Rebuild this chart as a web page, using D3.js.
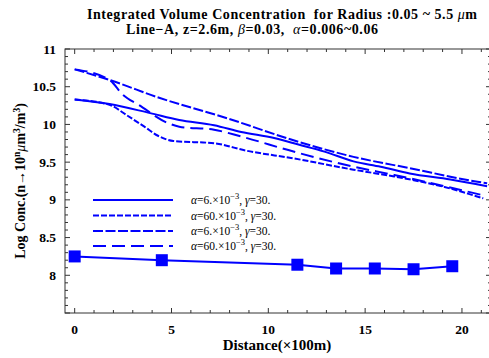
<!DOCTYPE html>
<html>
<head>
<meta charset="utf-8">
<script src="https://cdn.jsdelivr.net/npm/d3@7"></script>
<style>
  body { margin: 0; background: #fff; }
  svg { display: block; font-family: "Liberation Serif", "DejaVu Serif", serif; }
  .tick-label { font-weight: bold; font-size: 13.5px; }
</style>
</head>
<body>
<div id="chart"></div>
<script>
// Distance (x100m) and log concentration
const solidX = [0, 1.8, 3.9, 5.4, 7.2, 8.6, 10.3, 11.6, 12.9, 14.4, 15.8, 17.3, 19.4, 21.3];
const solidY = [10.33, 10.27, 10.15, 10.06, 9.99, 9.90, 9.82, 9.73, 9.64, 9.51, 9.44, 9.35, 9.27, 9.18];

const lowX = [0, 1.8, 2.7, 3.6, 4.3, 5.1, 7.2, 8.9, 11.3, 14.4, 16.5, 19.1, 21.1];
const lowY = [10.33, 10.26, 10.12, 9.97, 9.85, 9.78, 9.75, 9.65, 9.55, 9.40, 9.31, 9.17, 9.02];

const topX = [0, 1.8, 4.4, 7.9, 11.3, 14.4, 17.3, 20.8, 21.3];
const topY = [10.73, 10.59, 10.35, 10.08, 9.79, 9.57, 9.42, 9.24, 9.22];

const dropX = [0, 1.8, 2.5, 3.3, 4.8, 5.4, 7.2, 8.6, 11.3, 14.4, 16.5, 21.1];
const dropY = [10.73, 10.59, 10.39, 10.26, 10.02, 9.97, 9.93, 9.84, 9.64, 9.44, 9.33, 9.06];

// measured points (squares)
const measX = [0, 4.5, 11.5, 13.5, 15.5, 17.5, 19.5];
const measY = [8.25, 8.20, 8.14, 8.09, 8.09, 8.08, 8.12];

const xTicks = [0, 5, 10, 15, 20];
const yTicks = [8, 8.5, 9, 9.5, 10, 10.5, 11];

const legendAlpha = ["6.", "60.", "6.", "60."];
const legendDash = [null, "6,2", "10,2.5", "13,6"];

const W = 489, H = 358;
const pad = { left: 65, top: 49, right: 491, bottom: 313 };
const blue = "#0000ff";

const svg = d3.select("#chart").append("svg").attr("width", W).attr("height", H);

const x = d3.scaleLinear().domain([-0.5, 21.5]).range([pad.left, pad.right]);
const y = d3.scaleLinear().domain([7.5, 11]).range([pad.bottom, pad.top]);

// Titles
const t1 = svg.append("text").attr("x", 87).attr("y", 18.5)
  .attr("font-size", 14).attr("font-weight", "bold")
  .attr("textLength", 390).attr("lengthAdjust", "spacing");
t1.append("tspan").text("Integrated Volume Concentration\u00a0\u00a0for Radius :0.05 ~ 5.5 ");
t1.append("tspan").attr("font-style", "italic").attr("font-weight", "normal").text("\u03bc");
t1.append("tspan").text("m");

const t2 = svg.append("text").attr("x", 126).attr("y", 34)
  .attr("font-size", 14).attr("font-weight", "bold")
  .attr("textLength", 252).attr("lengthAdjust", "spacing");
t2.append("tspan").text("Line\u2212A, z=2.6m, ");
t2.append("tspan").attr("font-style", "italic").attr("font-weight", "normal").text("\u03b2");
t2.append("tspan").text("=0.03,\u00a0\u00a0");
t2.append("tspan").attr("font-style", "italic").attr("font-weight", "normal").text("\u03b1");
t2.append("tspan").text("=0.006~0.06");

// Frame
const frame = svg.append("g").attr("stroke", "#333").attr("stroke-width", 1).attr("fill", "none");
frame.append("rect")
  .attr("x", pad.left).attr("y", pad.top)
  .attr("width", pad.right - pad.left).attr("height", pad.bottom - pad.top);

// Ticks pointing inward on all sides
const xMinor = d3.range(0, 22, 1);
const yMinor = d3.range(7.5, 11.001, 0.1).map((d) => +d.toFixed(1));
xMinor.forEach((d) => {
  const len = d % 5 === 0 ? 5 : 3;
  frame.append("line").attr("x1", x(d)).attr("x2", x(d))
    .attr("y1", pad.bottom).attr("y2", pad.bottom - len);
  frame.append("line").attr("x1", x(d)).attr("x2", x(d))
    .attr("y1", pad.top).attr("y2", pad.top + len);
});
yMinor.forEach((d) => {
  const len = Math.abs(d * 2 - Math.round(d * 2)) < 1e-6 ? 5 : 3;
  frame.append("line").attr("y1", y(d)).attr("y2", y(d))
    .attr("x1", pad.left).attr("x2", pad.left + len);
  frame.append("line").attr("y1", y(d)).attr("y2", y(d))
    .attr("x1", pad.right).attr("x2", pad.right - len);
});

// Tick labels
svg.append("g").selectAll("text").data(xTicks).join("text")
  .attr("class", "tick-label")
  .attr("x", (d) => x(d)).attr("y", 334)
  .attr("text-anchor", "middle")
  .text((d) => d);

svg.append("g").selectAll("text").data(yTicks).join("text")
  .attr("class", "tick-label")
  .attr("x", 56).attr("y", (d) => y(d) + 4.5)
  .attr("text-anchor", "end")
  .text((d) => d);

// Axis titles
svg.append("text").attr("x", 277).attr("y", 350)
  .attr("text-anchor", "middle").attr("font-size", 15).attr("font-weight", "bold")
  .text("Distance(\u00d7100m)");

const yl = svg.append("text")
  .attr("transform", "translate(25,181) rotate(-90)")
  .attr("text-anchor", "middle").attr("font-size", 14).attr("font-weight", "bold");
yl.append("tspan").text("Log Conc.(n\u219210");
yl.append("tspan").attr("font-size", 9.5).attr("dy", -5).text("n");
yl.append("tspan").attr("dy", 5).attr("font-style", "italic").attr("font-weight", "normal").text("\u03bc");
yl.append("tspan").text("m");
yl.append("tspan").attr("font-size", 9.5).attr("dy", -5).text("3");
yl.append("tspan").attr("dy", 5).text("/m");
yl.append("tspan").attr("font-size", 9.5).attr("dy", -5).text("3");
yl.append("tspan").attr("dy", 5).text(")");

// Curves
const line = d3.line()
  .x((d) => x(d[0]))
  .y((d) => y(d[1]))
  .curve(d3.curveMonotoneX);

const series = [
  { xs: solidX, ys: solidY, dash: legendDash[0] },
  { xs: lowX, ys: lowY, dash: legendDash[1] },
  { xs: topX, ys: topY, dash: legendDash[2] },
  { xs: dropX, ys: dropY, dash: legendDash[3] },
];

const gLines = svg.append("g")
  .attr("fill", "none").attr("stroke", blue).attr("stroke-width", 2);

gLines.selectAll("path").data(series).join("path")
  .attr("d", (s) => line(d3.zip(s.xs, s.ys)))
  .attr("stroke-dasharray", (s) => s.dash);

// Measured line with squares
const meas = d3.zip(measX, measY);
gLines.append("path")
  .attr("d", d3.line().x((d) => x(d[0])).y((d) => y(d[1]))(meas));

svg.append("g").attr("fill", blue).selectAll("rect").data(meas).join("rect")
  .attr("x", (d) => x(d[0]) - 6).attr("y", (d) => y(d[1]) - 6)
  .attr("width", 12).attr("height", 12);

// Legend
const legendRowsY = [200, 215.5, 231, 246];
const legend = svg.append("g");
legendAlpha.forEach((a, i) => {
  const ly = legendRowsY[i];
  legend.append("line")
    .attr("x1", 93).attr("x2", 173).attr("y1", ly).attr("y2", ly)
    .attr("stroke", blue).attr("stroke-width", 2)
    .attr("stroke-dasharray", legendDash[i]);
  const t = legend.append("text").attr("x", 191).attr("y", ly + 4).attr("font-size", 11.5);
  t.append("tspan").attr("font-style", "italic").text("\u03b1");
  t.append("tspan").text("=" + a + "\u00d710");
  t.append("tspan").attr("font-size", 8.5).attr("dy", -5).text("\u22123");
  t.append("tspan").attr("dy", 5).text(", ");
  t.append("tspan").attr("font-style", "italic").text("\u03b3");
  t.append("tspan").text("=30.");
});
</script>
</body>
</html>
